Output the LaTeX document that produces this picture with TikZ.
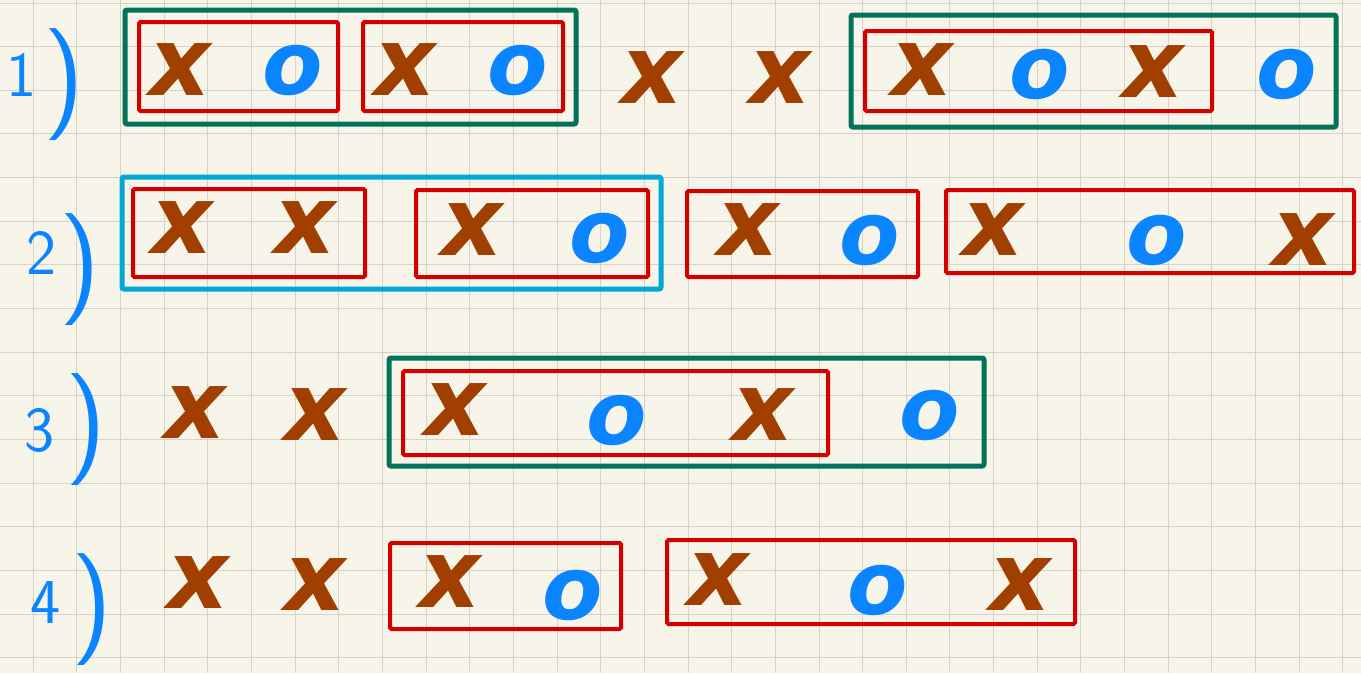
\documentclass[tikz,border=0pt]{standalone}
\usepackage{fontspec}
\newfontfamily\markfont{DejaVu Sans}
\usetikzlibrary{positioning}

\definecolor{paper}{HTML}{F7F5EA}
\definecolor{gridline}{HTML}{D6D3C6}
\definecolor{xbrown}{HTML}{A03F00}
\definecolor{oblue}{HTML}{0A84FF}
\definecolor{boxred}{HTML}{D40000}
\definecolor{boxgreen}{HTML}{00735A}
\definecolor{boxcyan}{HTML}{00A8D6}

\begin{document}
\begin{tikzpicture}[x=1pt, y=-1pt,
    cross/.style={text=xbrown, inner sep=0pt, font=\markfont\bfseries\itshape\fontsize{95}{95}\selectfont},
    ring/.style={text=oblue, inner sep=0pt, font=\markfont\bfseries\itshape\fontsize{88}{88}\selectfont},
    num/.style={text=oblue, inner sep=0pt, font=\sffamily\fontsize{64}{64}\selectfont},
    paren/.style={text=oblue, inner sep=0pt, font=\sffamily\fontsize{112}{112}\selectfont},
    redbox/.style={draw=boxred, line width=4pt, rounded corners=1.5pt},
    greenbox/.style={draw=boxgreen, line width=5pt, rounded corners=2pt},
    cyanbox/.style={draw=boxcyan, line width=5pt, rounded corners=2pt}]

  % Paper and its grid
  \fill[paper] (0,0) rectangle (1361,673);
  \useasboundingbox (0,0) rectangle (1361,673);
  \foreach \k in {0,...,30} {
    \draw[gridline, line width=1pt] ({33.3+43.65*\k},0) -- ({33.3+43.65*\k},673);
  }
  \foreach \k in {0,...,15} {
    \draw[gridline, line width=1pt] (0,{3+43.65*\k}) -- (1361,{3+43.65*\k});
  }

  % Row labels
  \node[num] (n1) at (22,75) {1};
  \node[paren] (p1) at (64,85) {)};
  \node[num] (n2) at (42,253) {2};
  \node[paren] (p2) at (80,270) {)};
  \node[num] (n3) at (40,430) {3};
  \node[paren] (p3) at (86,430) {)};
  \node[num] (n4) at (46,602) {4};
  \node[paren] (p4) at (92,610) {)};

  % Row 1
  \draw[greenbox] (125,10) rectangle (576,124);
  \draw[redbox] (139,22) rectangle (338,111);
  \draw[redbox] (363,22) rectangle (563,111);
  \draw[greenbox] (851,15) rectangle (1336,127);
  \draw[redbox] (865,31) rectangle (1212,111);
  \node[cross] (a1) at (180,70) {x};
  \node[ring] (a2) at (293,70) {o};
  \node[cross] (a3) at (405,70) {x};
  \node[ring] (a4) at (518,70) {o};
  \node[cross] (a5) at (652,78) {x};
  \node[cross] (a6) at (780,78) {x};
  \node[cross] (a7) at (922,70) {x};
  \node[ring] (a8) at (1040,74) {o};
  \node[cross] (a9) at (1153,72) {x};
  \node[ring] (a10) at (1287,74) {o};

  % Row 2
  \draw[cyanbox] (122,177) rectangle (661,289);
  \draw[redbox] (133,189) rectangle (365,277);
  \draw[redbox] (416,190) rectangle (648,277);
  \draw[redbox] (687,191) rectangle (918,277);
  \draw[redbox] (946,190) rectangle (1354,273);
  \node[cross] (b1) at (182,228) {x};
  \node[cross] (b2) at (305,228) {x};
  \node[cross] (b3) at (472,230) {x};
  \node[ring] (b4) at (600,238) {o};
  \node[cross] (b5) at (748,230) {x};
  \node[ring] (b6) at (870,240) {o};
  \node[cross] (b7) at (993,230) {x};
  \node[ring] (b8) at (1157,240) {o};
  \node[cross] (b9) at (1303,240) {x};

  % Row 3
  \draw[greenbox] (389,358) rectangle (984,466);
  \draw[redbox] (403,371) rectangle (828,455);
  \node[cross] (c1) at (195,413) {x};
  \node[cross] (c2) at (315,415) {x};
  \node[cross] (c3) at (455,410) {x};
  \node[ring] (c4) at (617,420) {o};
  \node[cross] (c5) at (763,415) {x};
  \node[ring] (c6) at (930,415) {o};

  % Row 4
  \draw[redbox] (390,543) rectangle (621,629);
  \draw[redbox] (667,540) rectangle (1075,624);
  \node[cross] (d1) at (198,583) {x};
  \node[cross] (d2) at (315,585) {x};
  \node[cross] (d3) at (450,582) {x};
  \node[ring] (d4) at (573,595) {o};
  \node[cross] (d5) at (718,580) {x};
  \node[ring] (d6) at (878,590) {o};
  \node[cross] (d7) at (1020,585) {x};
\end{tikzpicture}
\end{document}
